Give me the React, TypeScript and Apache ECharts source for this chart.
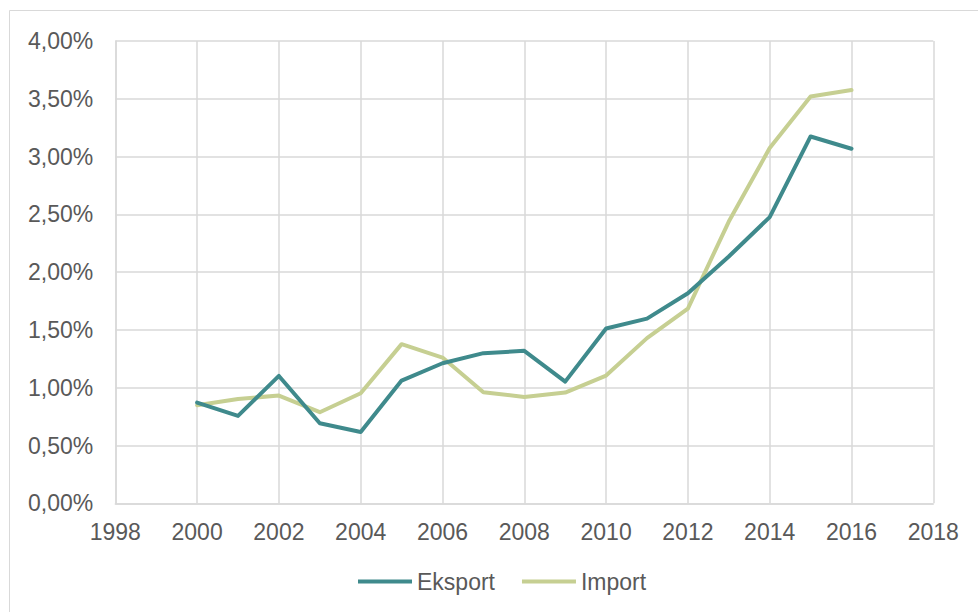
import React, { useEffect, useRef } from "react";
import * as echarts from "echarts";

// Share of trade, per cent, by year
const years = [2000, 2001, 2002, 2003, 2004, 2005, 2006, 2007, 2008, 2009, 2010, 2011, 2012, 2013, 2014, 2015, 2016];
const eksport = [0.871, 0.756, 1.102, 0.693, 0.617, 1.062, 1.212, 1.299, 1.319, 1.053, 1.512, 1.598, 1.818, 2.135, 2.476, 3.174, 3.068];
const importValues = [0.848, 0.903, 0.932, 0.788, 0.952, 1.377, 1.261, 0.961, 0.92, 0.958, 1.105, 1.429, 1.685, 2.438, 3.074, 3.52, 3.576];

const seriesNames = ["Eksport", "Import"];
const seriesColors = ["#3F8A8C", "#C6CF92"];

const textColor = "#595959";
const gridColor = "#D9D9D9";
const fontFamily = "'Liberation Sans', Arial, sans-serif";

export default function App() {
  const ref = useRef<HTMLDivElement>(null);

  useEffect(() => {
    if (!ref.current) return;
    const chart = echarts.init(ref.current, undefined, { renderer: "svg" });
    const pair = (vals: number[]) => years.map((y, i) => [y, vals[i]]);
    chart.setOption({
      animation: false,
      backgroundColor: "#ffffff",
      textStyle: { fontFamily },
      graphic: [
        {
          type: "rect",
          shape: { x: 9.5, y: 10.5, width: 1000, height: 700 },
          style: { fill: "none", stroke: gridColor, lineWidth: 1 },
          silent: true,
        },
      ],
      grid: { left: 115.3, right: 44.7, top: 41, bottom: 108.7 },
      legend: {
        bottom: 14,
        left: 353,
        icon: "rect",
        itemWidth: 54,
        itemHeight: 4,
        itemGap: 27,
        textStyle: { color: textColor, fontSize: 23, fontFamily },
        data: seriesNames,
      },
      xAxis: {
        type: "value",
        min: 1998,
        max: 2018,
        interval: 2,
        axisLine: { show: true, lineStyle: { color: gridColor, width: 1.5 } },
        axisTick: { show: false },
        splitLine: { show: true, lineStyle: { color: gridColor, width: 1.5 } },
        axisLabel: {
          color: textColor,
          fontSize: 23,
          fontFamily,
          margin: 17,
          formatter: (v: number) => String(v),
        },
      },
      yAxis: {
        type: "value",
        min: 0,
        max: 4,
        interval: 0.5,
        axisLine: { show: true, lineStyle: { color: gridColor, width: 1.5 } },
        axisTick: { show: false },
        splitLine: { show: true, lineStyle: { color: gridColor, width: 1.5 } },
        axisLabel: {
          color: textColor,
          fontSize: 23,
          fontFamily,
          margin: 22,
          formatter: (v: number) => v.toFixed(2).replace(".", ",") + "%",
        },
      },
      series: [
        {
          name: seriesNames[0],
          type: "line",
          data: pair(eksport),
          symbol: "none",
          lineStyle: { color: seriesColors[0], width: 4, cap: "round", join: "round" },
          itemStyle: { color: seriesColors[0] },
          z: 3,
        },
        {
          name: seriesNames[1],
          type: "line",
          data: pair(importValues),
          symbol: "none",
          lineStyle: { color: seriesColors[1], width: 4, cap: "round", join: "round" },
          itemStyle: { color: seriesColors[1] },
          z: 2,
        },
      ],
    });
    return () => chart.dispose();
  }, []);

  return (
    <div
      ref={ref}
      style={{ position: "fixed", left: 0, top: 0, width: 978, height: 612 }}
    />
  );
}
